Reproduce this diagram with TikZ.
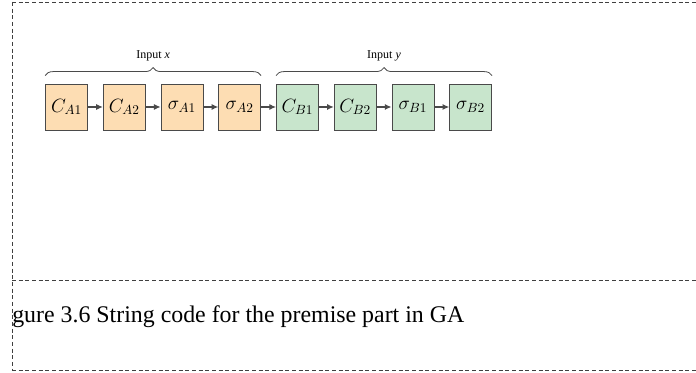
\documentclass[tikz,border=0pt]{standalone}
\usepackage{fontspec}
\setmainfont{Liberation Serif}
\usetikzlibrary{positioning,decorations.pathreplacing,arrows.meta}

\definecolor{geneA}{HTML}{FDDDB3}
\definecolor{geneB}{HTML}{C8E5CC}
\definecolor{edgegray}{HTML}{4A4A4A}

\tikzset{
    gene/.style={draw=edgegray, line width=0.6pt, minimum width=31.5pt, minimum height=34.5pt, inner sep=0pt, font=\Large},
    link/.style={-{Latex[length=5pt,width=4.5pt]}, draw=edgegray, line width=0.8pt},
    bracebar/.style={decorate, decoration={brace, amplitude=6pt}, draw=edgegray, line width=0.6pt},
    frameline/.style={densely dashed, draw=black!75, line width=0.5pt}
}

\begin{document}
\begin{tikzpicture}[x=0.75pt, y=-0.75pt, node distance=11.2pt]
            \useasboundingbox (0,0) rectangle (696,373);

            % dashed frame of the figure box
            \coordinate (TL) at (12,2);
            \coordinate (TR) at (696,2);
            \coordinate (ML) at (12,280);
            \coordinate (MR) at (696,280);
            \coordinate (BL) at (12,370);
            \coordinate (BR) at (696,370);

            \draw[frameline] (TL) -- (TR);
            \draw[frameline] (ML) -- (MR);
            \draw[frameline] (BL) -- (BR);
            \draw[frameline] (TL) -- (BL);

            % string code
            \node[gene, fill=geneA] (ca1) at (66.5,107) {$C_{A1}$};
            \node[gene, fill=geneA, right=of ca1] (ca2) {$C_{A2}$};
            \node[gene, fill=geneA, right=of ca2] (sa1) {$\sigma_{A1}$};
            \node[gene, fill=geneA, right=of sa1] (sa2) {$\sigma_{A2}$};
            \node[gene, fill=geneB, right=of sa2] (cb1) {$C_{B1}$};
            \node[gene, fill=geneB, right=of cb1] (cb2) {$C_{B2}$};
            \node[gene, fill=geneB, right=of cb2] (sb1) {$\sigma_{B1}$};
            \node[gene, fill=geneB, right=of sb1] (sb2) {$\sigma_{B2}$};

            \draw[link] (ca1) -- (ca2);
            \draw[link] (ca2) -- (sa1);
            \draw[link] (sa1) -- (sa2);
            \draw[link] (sa2) -- (cb1);
            \draw[link] (cb1) -- (cb2);
            \draw[link] (cb2) -- (sb1);
            \draw[link] (sb1) -- (sb2);

            % braces
            \draw[bracebar] ([yshift=6pt]ca1.north west) -- node[above=7pt, font=\small] (inx) {Input \textit{x}} ([yshift=6pt]sa2.north east);
            \draw[bracebar] ([yshift=6pt]cb1.north west) -- node[above=7pt, font=\small] (iny) {Input \textit{y}} ([yshift=6pt]sb2.north east);

            % caption
            \node[anchor=west, inner sep=0pt, font=\fontsize{17.9pt}{21pt}\selectfont] (cap) at (12,317) {gure 3.6 String code for the premise part in GA};
\end{tikzpicture}
\end{document}
